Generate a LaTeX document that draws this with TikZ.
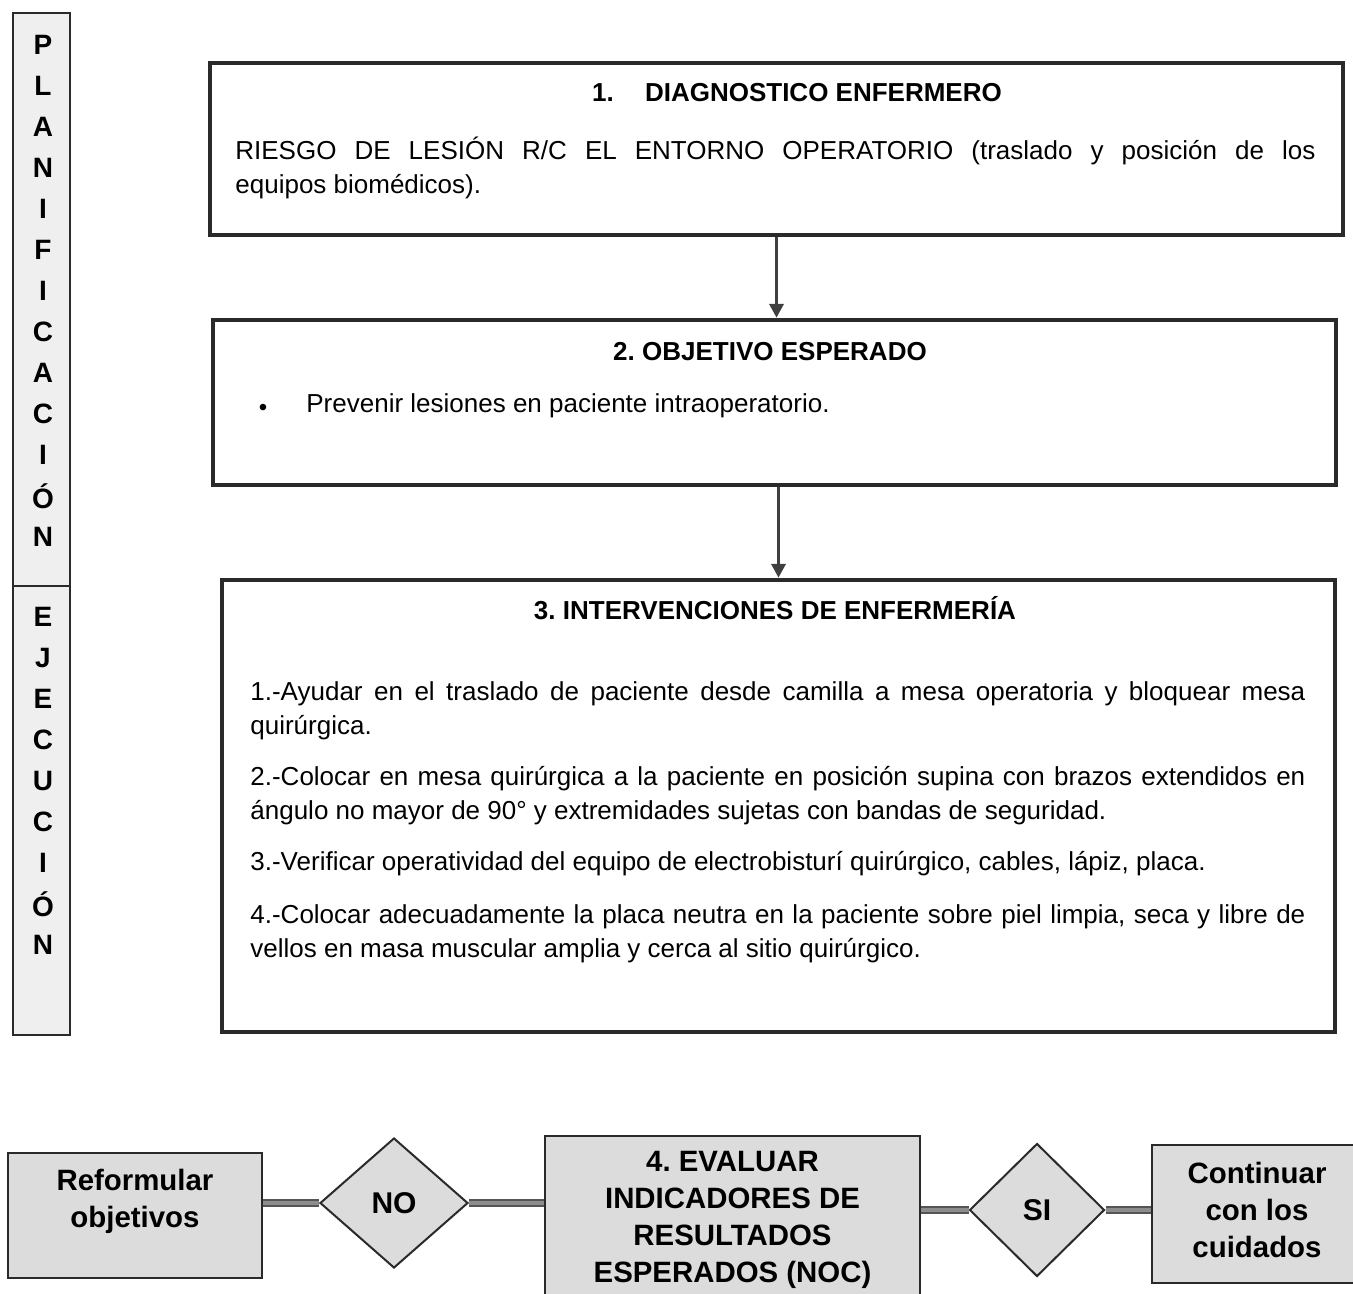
\documentclass[tikz,border=0pt]{standalone}
\usepackage{fontspec}
\setmainfont{Liberation Sans}
\usetikzlibrary{shapes.geometric, arrows.meta}
\frenchspacing
\definecolor{barGray}  {HTML}{EFEFEF}
\definecolor{boxGray}  {HTML}{DCDCDC}
\definecolor{lineDark} {HTML}{2A2A2A}
\definecolor{linkGray} {HTML}{8C8C8C}
\tikzset{
  bigbox/.style={rectangle, draw=lineDark, line width=2.2pt, fill=white, inner sep=0pt},
  graybox/.style={rectangle, draw=lineDark, line width=1.1pt, fill=boxGray, inner sep=0pt},
  boxtext/.style={font=\fontsize{14.7}{18.5}\selectfont\bfseries, align=center, inner sep=0pt},
  decision/.style={diamond, draw=lineDark, line width=1pt, fill=boxGray, inner sep=0pt,
    font=\fontsize{15}{18}\selectfont\bfseries},
  headtext/.style={font=\fontsize{13}{15}\selectfont\bfseries, inner sep=0pt},
  bodytext/.style={anchor=north west, inner sep=0pt, align=justify,
    font=\fontsize{13}{17}\selectfont},
  barletter/.style={font=\fontsize{14}{14}\selectfont\bfseries, inner sep=0pt},
  link/.style={draw=lineDark!80, line width=0.7pt, double=linkGray, double distance=2.4pt},
  arr/.style={-{Triangle[width=7pt,length=7pt]}, line width=1.9pt, draw=lineDark!90}
}

\begin{document}
\begin{tikzpicture}[x=0.5pt, y=-0.5pt]
\useasboundingbox (0,0) rectangle (1353,1294);
\clip (0,0) rectangle (1353,1294);

% --- SIDE BAR ---
\draw[draw=lineDark, line width=1pt, fill=barGray] (13,13) rectangle (70,586);
\draw[draw=lineDark, line width=1pt, fill=barGray] (13,586) rectangle (70,1035);
\foreach \l [count=\i] in {P,L,A,N,I,F,I,C,A,C,I,Ó,N}{
  \node[barletter] (plan\i) at (43, 45+\i*41-41) {\l};
}
\foreach \l [count=\i] in {E,J,E,C,U,C,I,Ó,N}{
  \node[barletter] (ejec\i) at (43, 617+\i*41-41) {\l};
}

% --- BOX 1 : Diagnostico ---
\node[bigbox, minimum width=566.5pt, minimum height=86pt] (diag) at (776.5,149) {};
\node[headtext] (diagtitle) at (797,93) {1.\hspace{1.2em}DIAGNOSTICO ENFERMERO};
\node[bodytext, text width=540pt] (diagtext) at (235,137)
  {RIESGO DE LESIÓN R/C EL ENTORNO OPERATORIO (traslado y posición de los\linebreak
   equipos biomédicos).};

% --- BOX 2 : Objetivo ---
\node[bigbox, minimum width=561.5pt, minimum height=82.5pt] (obj) at (774.5,402.5) {};
\node[headtext] (objtitle) at (770,352) {2. OBJETIVO ESPERADO};
\node[inner sep=0pt, font=\fontsize{12}{14}\selectfont] (objbullet) at (263,410) {\textbullet};
\node[bodytext, anchor=west] (objtext) at (306,406)
  {Prevenir lesiones en paciente intraoperatorio.};

% --- BOX 3 : Intervenciones ---
\node[bigbox, minimum width=556.5pt, minimum height=226pt] (interv) at (778.5,806) {};
\node[headtext] (intervtitle) at (775,608) {3. INTERVENCIONES DE ENFERMERÍA};
\node[bodytext, text width=527.5pt] (intervtext) at (250,681)
  {1.-Ayudar en el traslado de paciente desde camilla a mesa operatoria y bloquear mesa\linebreak
   quirúrgica.\par\vspace{8.5pt}
   2.-Colocar en mesa quirúrgica a la paciente en posición supina con brazos extendidos en\linebreak
   ángulo no mayor de 90° y extremidades sujetas con bandas de seguridad.\par\vspace{8.5pt}
   3.-Verificar operatividad del equipo de electrobisturí quirúrgico, cables, lápiz, placa.\par\vspace{9.5pt}
   4.-Colocar adecuadamente la placa neutra en la paciente sobre piel limpia, seca y libre de\linebreak
   vellos en masa muscular amplia y cerca al sitio quirúrgico.};

% --- ARROWS ---
\draw[arr] (diag.south) -- (diag.south |- obj.north);
\draw[arr] (interv.north |- obj.south) -- (interv.north);

% --- EVALUATION ROW ---
\node[graybox, minimum width=127pt, minimum height=62.5pt] (reform) at (135,1215.5) {};
\node[boxtext] (reformtext) at (135,1201) {Reformular\\objetivos};
\node[decision, minimum width=74pt, minimum height=65pt] (no) at (394,1203) {NO};
\node[graybox, minimum width=187.5pt, minimum height=86pt] (eval) at (732.5,1222) {};
\node[boxtext] (evaltext) at (732.5,1220)
  {4. EVALUAR\\INDICADORES DE\\RESULTADOS\\ESPERADOS (NOC)};
\node[decision, minimum width=67.5pt, minimum height=66.5pt] (si) at (1037,1210) {SI};
\node[graybox, minimum width=105pt, minimum height=69pt] (cont) at (1257,1214) {};
\node[boxtext] (conttext) at (1257,1210) {Continuar\\con los\\cuidados};

\draw[link] (no.west) -- (no.west -| reform.east);
\draw[link] (no.east) -- (no.east -| eval.west);
\draw[link] (si.west -| eval.east) -- (si.west);
\draw[link] (si.east) -- (si.east -| cont.west);

\end{tikzpicture}
\end{document}
